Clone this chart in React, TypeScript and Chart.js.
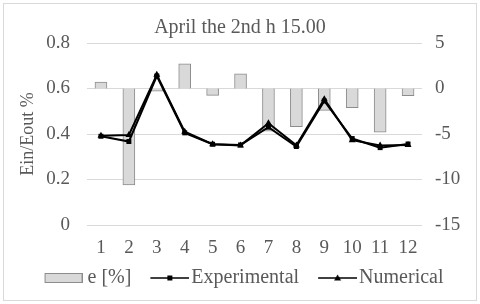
import React, { useEffect, useRef } from "react";
import { Chart, registerables } from "chart.js";

Chart.register(...registerables);

const categories = ["1", "2", "3", "4", "5", "6", "7", "8", "9", "10", "11", "12"];
const eValues = [0.7, -10.6, -0.3, 2.7, -0.75, 1.6, -4.7, -4.2, -2.4, -2.1, -4.8, -0.8];
const experimental = [0.39, 0.367, 0.655, 0.405, 0.355, 0.352, 0.43, 0.345, 0.545, 0.38, 0.34, 0.356];
const numerical = [0.392, 0.396, 0.66, 0.41, 0.355, 0.35, 0.447, 0.35, 0.553, 0.373, 0.35, 0.352];
const leftTicks = [0, 0.2, 0.4, 0.6, 0.8];
const rightTicks = [-15, -10, -5, 0, 5];

const FONT = "'Liberation Serif', 'Times New Roman', serif";
const TEXT = "#595959";
const BAR_FILL = "#d9d9d9";
const BAR_BORDER = "#8c8c8c";

function makeBarSwatch() {
  const c = document.createElement("canvas");
  c.width = 51;
  c.height = 10;
  const ctx = c.getContext("2d")!;
  ctx.fillStyle = BAR_FILL;
  ctx.fillRect(13, 0, 38, 10);
  ctx.strokeStyle = BAR_BORDER;
  ctx.lineWidth = 1;
  ctx.strokeRect(13.5, 0.5, 37, 9);
  return c;
}

function makeLineSwatch(kind: "rect" | "triangle") {
  const c = document.createElement("canvas");
  c.width = 57;
  c.height = 10;
  const ctx = c.getContext("2d")!;
  ctx.strokeStyle = "#000";
  ctx.lineWidth = 1.5;
  ctx.beginPath();
  ctx.moveTo(18, 5);
  ctx.lineTo(57, 5);
  ctx.stroke();
  ctx.fillStyle = "#000";
  const cx = 37.5;
  if (kind === "rect") {
    ctx.fillRect(cx - 2.5, 2.5, 5, 5);
  } else {
    ctx.beginPath();
    ctx.moveTo(cx, 1.5);
    ctx.lineTo(cx + 3.5, 7.5);
    ctx.lineTo(cx - 3.5, 7.5);
    ctx.closePath();
    ctx.fill();
  }
  return c;
}

const framePlugin = {
  id: "frame",
  beforeDraw(chart: any) {
    const ctx = chart.ctx;
    ctx.save();
    ctx.fillStyle = "#ffffff";
    ctx.fillRect(0, 0, chart.width, chart.height);
    ctx.strokeStyle = "#d9d9d9";
    ctx.lineWidth = 1;
    ctx.strokeRect(3.5, 3.5, chart.width - 7, chart.height - 7);
    ctx.restore();
  },
};

export default function App() {
  const ref = useRef<HTMLCanvasElement | null>(null);

  useEffect(() => {
    if (!ref.current) return;
    const barSw = makeBarSwatch();
    const expSw = makeLineSwatch("rect");
    const numSw = makeLineSwatch("triangle");

    const chart = new Chart(ref.current, {
      data: {
        labels: categories,
        datasets: [
          {
            type: "bar",
            label: "e [%]",
            data: eValues,
            yAxisID: "y1",
            backgroundColor: BAR_FILL,
            borderColor: BAR_BORDER,
            borderWidth: 1,
            barThickness: 12,
            order: 3,
          } as any,
          {
            type: "line",
            label: "Experimental",
            data: experimental,
            yAxisID: "y",
            borderColor: "#000",
            backgroundColor: "#000",
            borderWidth: 2,
            pointStyle: "rect",
            pointRadius: 3.5,
            pointBorderWidth: 0,
            order: 1,
          },
          {
            type: "line",
            label: "Numerical",
            data: numerical,
            yAxisID: "y",
            borderColor: "#000",
            backgroundColor: "#000",
            borderWidth: 2,
            pointStyle: "triangle",
            pointRadius: 4,
            pointBorderWidth: 0,
            order: 2,
          },
        ],
      },
      options: {
        responsive: false,
        animation: false,
        devicePixelRatio: 1,
        layout: { padding: { left: 13, right: 13, top: 0, bottom: 6 } },
        plugins: {
          tooltip: { enabled: false },
          title: {
            display: true,
            text: "April the 2nd h 15.00",
            color: TEXT,
            font: { family: FONT, size: 20, weight: "normal" },
            padding: { top: 16, bottom: 3 },
          },
          legend: {
            display: true,
            position: "bottom",
            labels: {
              usePointStyle: true,
              pointStyleWidth: 41,
              padding: 9,
              color: TEXT,
              font: { family: FONT, size: 20 },
              generateLabels: () => [
                { text: "e [%]", pointStyle: barSw, datasetIndex: 0, fontColor: TEXT, hidden: false, lineWidth: 0 } as any,
                { text: "Experimental", pointStyle: expSw, datasetIndex: 1, fontColor: TEXT, hidden: false, lineWidth: 0 } as any,
                { text: "Numerical", pointStyle: numSw, datasetIndex: 2, fontColor: TEXT, hidden: false, lineWidth: 0 } as any,
              ],
            },
          },
        },
        scales: {
          x: {
            type: "category",
            offset: true,
            grid: { display: false, drawTicks: false },
            border: { display: false },
            ticks: { color: TEXT, font: { family: FONT, size: 19 }, padding: 12, maxRotation: 0, autoSkip: false },
            afterFit: (s: any) => { s.height = 34; },
          },
          y: {
            position: "left",
            min: leftTicks[0],
            max: leftTicks[leftTicks.length - 1],
            afterBuildTicks: (s: any) => { s.ticks = leftTicks.map((v) => ({ value: v })); },
            grid: { color: "#d9d9d9", lineWidth: 1, drawTicks: false },
            border: { display: false },
            ticks: { color: TEXT, font: { family: FONT, size: 19 }, padding: 17 },
            title: {
              display: true,
              text: "Ein/Eout %",
              color: TEXT,
              font: { family: FONT, size: 18 },
              padding: { top: 4, bottom: 0 },
            },
            afterFit: (s: any) => { s.width = 74; },
          },
          y1: {
            position: "right",
            min: rightTicks[0],
            max: rightTicks[rightTicks.length - 1],
            afterBuildTicks: (s: any) => { s.ticks = rightTicks.map((v) => ({ value: v })); },
            grid: { display: false, drawTicks: false },
            border: { display: false },
            ticks: { color: TEXT, font: { family: FONT, size: 19 }, padding: 13 },
            afterFit: (s: any) => { s.width = 45; },
          },
        },
      },
      plugins: [framePlugin],
    } as any);
    return () => chart.destroy();
  }, []);

  return (
    <div style={{ position: "absolute", left: 0, top: 0, width: 480, height: 304 }}>
      <canvas ref={ref} width={480} height={304} style={{ width: 480, height: 304, display: "block" }} />
    </div>
  );
}
